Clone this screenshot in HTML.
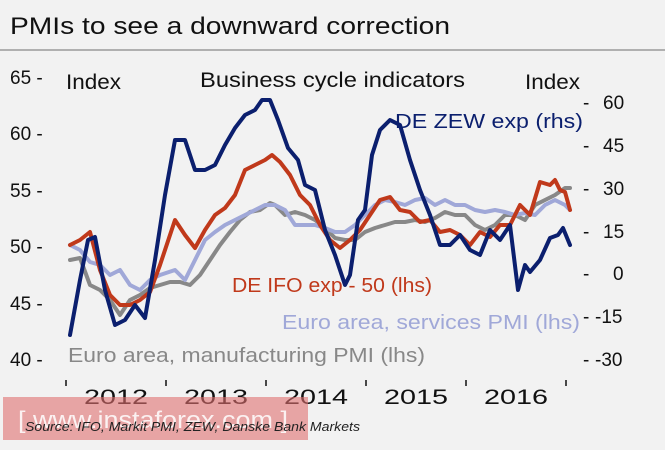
<!DOCTYPE html><html><head><meta charset="utf-8"><style>
body{margin:0;background:#f2f2f2;}
svg{display:block;font-family:"Liberation Sans",sans-serif;}
</style></head><body>
<svg width="665" height="450" viewBox="0 0 665 450">
<rect width="665" height="450" fill="#f2f2f2"/>
<text x="10" y="34" font-size="24" fill="#111" textLength="440" lengthAdjust="spacingAndGlyphs">PMIs to see a downward correction</text>
<line x1="0" y1="50" x2="665" y2="50" stroke="#999" stroke-width="1.5"/>
<g font-size="19" fill="#111">
<text x="10" y="84">65 -</text><text x="10" y="140">60 -</text><text x="10" y="197">55 -</text><text x="10" y="253">50 -</text><text x="10" y="310">45 -</text><text x="10" y="366">40 -</text>
<text x="583" y="109">-</text><text x="603" y="109">60</text>
<text x="583" y="152">-</text><text x="603" y="152">45</text>
<text x="583" y="195">-</text><text x="603" y="195">30</text>
<text x="583" y="238">-</text><text x="603" y="238">15</text>
<text x="583" y="280">-</text><text x="613" y="280">0</text>
<text x="583" y="323">-</text><text x="595" y="323">-15</text>
<text x="583" y="366">-</text><text x="595" y="366">-30</text>
<text x="66" y="89" font-size="21" textLength="55" lengthAdjust="spacingAndGlyphs">Index</text>
<text x="200" y="87" font-size="21" textLength="265" lengthAdjust="spacingAndGlyphs">Business cycle indicators</text>
<text x="525" y="89" font-size="21" textLength="55" lengthAdjust="spacingAndGlyphs">Index</text>
<text x="84" y="404" font-size="21" textLength="64" lengthAdjust="spacingAndGlyphs">2012</text><text x="184" y="404" font-size="21" textLength="64" lengthAdjust="spacingAndGlyphs">2013</text><text x="284" y="404" font-size="21" textLength="64" lengthAdjust="spacingAndGlyphs">2014</text><text x="384" y="404" font-size="21" textLength="64" lengthAdjust="spacingAndGlyphs">2015</text><text x="484" y="404" font-size="21" textLength="64" lengthAdjust="spacingAndGlyphs">2016</text>
</g>
<g stroke="#111" stroke-width="1.5">
<line x1="66" y1="380" x2="66" y2="386"/><line x1="166" y1="380" x2="166" y2="386"/><line x1="266" y1="380" x2="266" y2="386"/><line x1="366" y1="380" x2="366" y2="386"/><line x1="466" y1="380" x2="466" y2="386"/><line x1="566" y1="380" x2="566" y2="386"/>
</g>
<g fill="none" stroke-width="4" stroke-linejoin="round" stroke-linecap="round">
<polyline stroke="#888888" points="70,260 80,258 90,285 100,290 110,300 120,315 130,300 140,295 150,288 160,285 170,282 180,282 190,285 200,275 210,260 220,245 230,232 240,220 250,212 260,210 270,203 275,205 285,215 295,212 305,215 315,220 325,228 335,238 345,240 355,240 365,232 375,228 385,225 395,222 405,222 415,220 425,222 435,218 445,212 455,215 465,215 475,225 485,230 495,225 505,215 515,215 525,220 535,205 545,200 555,195 565,188 570,188"/>
<polyline stroke="#a0a8d8" points="70,245 80,250 90,262 100,265 110,275 120,270 130,285 140,290 150,280 160,275 175,270 185,280 195,260 205,240 215,232 225,225 235,220 245,215 255,210 265,205 275,205 285,210 295,225 305,225 315,225 325,228 335,232 345,232 355,225 365,215 375,205 385,200 395,202 405,205 415,200 425,198 435,205 445,200 455,205 465,205 475,210 485,212 495,210 505,212 515,215 525,213 535,215 545,205 555,200 565,205 570,210"/>
<polyline stroke="#c0391b" points="70,245 80,240 90,232 100,270 110,295 120,305 130,305 140,300 150,292 160,265 175,220 185,235 195,248 205,230 215,215 225,208 235,195 245,170 255,165 265,160 272,155 280,162 290,175 300,195 310,205 320,225 330,240 340,248 350,240 360,230 370,215 380,200 390,197 400,210 410,212 420,222 430,220 440,232 450,230 460,235 470,245 480,232 490,237 500,225 510,225 520,205 530,215 540,182 550,185 555,180 560,190 565,192 570,210"/>
<polyline stroke="#0b1f6e" points="70,335 80,280 88,240 95,237 105,290 115,325 125,320 135,305 145,318 155,260 165,195 175,140 185,140 195,170 205,170 215,165 225,145 235,128 245,115 255,110 262,100 270,100 278,120 288,148 298,160 305,185 315,190 325,230 335,255 345,285 350,275 358,220 365,210 372,155 380,130 390,120 400,125 410,160 420,190 430,215 440,245 450,245 460,235 470,250 480,255 490,230 500,240 510,225 518,290 525,265 530,272 540,260 550,238 558,235 563,228 570,245"/>
</g>
<g font-size="20">
<text x="395" y="128" fill="#0b1f6e" textLength="188" lengthAdjust="spacingAndGlyphs">DE ZEW exp (rhs)</text>
<text x="232" y="292" fill="#c0391b" textLength="200" lengthAdjust="spacingAndGlyphs">DE IFO exp - 50 (lhs)</text>
<text x="282" y="329" fill="#a0a8d8" textLength="298" lengthAdjust="spacingAndGlyphs">Euro area, services PMI (lhs)</text>
<text x="68" y="362" fill="#888888" textLength="357" lengthAdjust="spacingAndGlyphs">Euro area, manufacturing PMI (lhs)</text>
</g>
<rect x="3" y="397" width="305" height="43" fill="#e07070" opacity="0.6"/>
<text x="18" y="428" font-size="24" fill="#fff" opacity="0.85" textLength="270" lengthAdjust="spacingAndGlyphs">[ www.instaforex.com ]</text>
<text x="25" y="431" font-size="13" font-style="italic" fill="#222" textLength="335" lengthAdjust="spacingAndGlyphs">Source: IFO, Markit PMI, ZEW, Danske Bank Markets</text>
</svg>
</body></html>
